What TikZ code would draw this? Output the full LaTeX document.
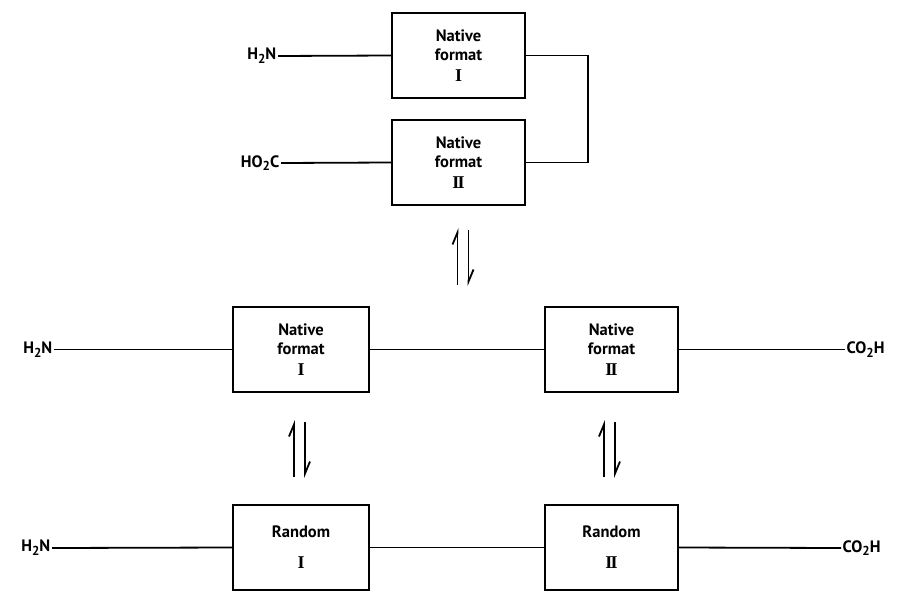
\documentclass[tikz,border=0pt]{standalone}
\usepackage{fontspec}
\setmainfont{PT Sans}
\newfontfamily\numfont{Liberation Serif}
\usetikzlibrary{arrows.meta}
\newcommand\lowsub[1]{\raisebox{-0.45ex}{\fontsize{13}{13}\selectfont #1}}
\newcommand\rI{{\fontsize{18}{18}\selectfont\numfont\bfseries I}}
\newcommand\rII{{\fontsize{18}{18}\selectfont\numfont\bfseries I\kern-1.6pt I}}
\begin{document}
\begin{tikzpicture}[x=1pt,y=-1pt,
  box/.style={draw, line width=1.8pt, minimum width=133pt, minimum height=85pt, align=center, inner sep=0pt, font=\fontsize{16.5}{19}\selectfont\bfseries},
  lab/.style={inner sep=1.5pt, font=\fontsize{16.5}{18}\selectfont\bfseries},
  conn/.style={line width=1.8pt},
  harp/.style={line width=1.8pt, -{Straight Barb[harpoon,length=12pt,width=10pt]}},
]
\useasboundingbox (0,0) rectangle (904,591);

% top pair
\node[box] (tI) at (458.5,55.5) {Native\\format\\[2pt]\rI};
\node[box] (tII) at (458.5,162.5) {Native\\format\\[2pt]\rII};
\node[lab, anchor=east] (tN) at (278,56) {H\lowsub{2}N};
\node[lab, anchor=east] (tC) at (281,163) {HO\lowsub{2}C};
\draw[conn] (tN.east) -- (tI.west);
\draw[conn] (tC.east) -- (tII.west);
\draw[conn] (tI.east) -- ++(62,0) |- (tII.east);

% top equilibrium
\coordinate (e1a) at (457.5,285);
\coordinate (e1b) at (457.5,228);
\coordinate (e1c) at (468.5,230);
\coordinate (e1d) at (468.5,286);
\draw[harp] (e1a) -- (e1b);
\draw[harp] (e1c) -- (e1d);

% middle row
\node[box, minimum width=136pt] (mI) at (301,349.5) {Native\\format\\[2pt]\rI};
\node[box] (mII) at (611.5,349.5) {Native\\format\\[2pt]\rII};
\node[lab, anchor=east] (mN) at (54,349.5) {H\lowsub{2}N};
\node[lab, anchor=west] (mC) at (845,349.5) {CO\lowsub{2}H};
\draw[conn] (mN.east) -- (mI.west);
\draw[conn] (mI.east) -- (mII.west);
\draw[conn] (mII.east) -- (mC.west);

% lower equilibria
\coordinate (e2a) at (294,477);
\coordinate (e2b) at (294,420);
\coordinate (e2c) at (305,422);
\coordinate (e2d) at (305,478);
\draw[harp] (e2a) -- (e2b);
\draw[harp] (e2c) -- (e2d);
\coordinate (e3a) at (604,477);
\coordinate (e3b) at (604,420);
\coordinate (e3c) at (615,422);
\coordinate (e3d) at (615,478);
\draw[harp] (e3a) -- (e3b);
\draw[harp] (e3c) -- (e3d);

% bottom row
\node[box, minimum width=136pt] (bI) at (301,547.5) {Random\\[12pt]\rI};
\node[box] (bII) at (611.5,547.5) {Random\\[12pt]\rII};
\node[lab, anchor=east] (bN) at (52,548) {H\lowsub{2}N};
\node[lab, anchor=west] (bC) at (841,548) {CO\lowsub{2}H};
\draw[conn] (bN.east) -- (bI.west);
\draw[conn] (bI.east) -- (bII.west);
\draw[conn] (bII.east) -- (bC.west);
\end{tikzpicture}
\end{document}
